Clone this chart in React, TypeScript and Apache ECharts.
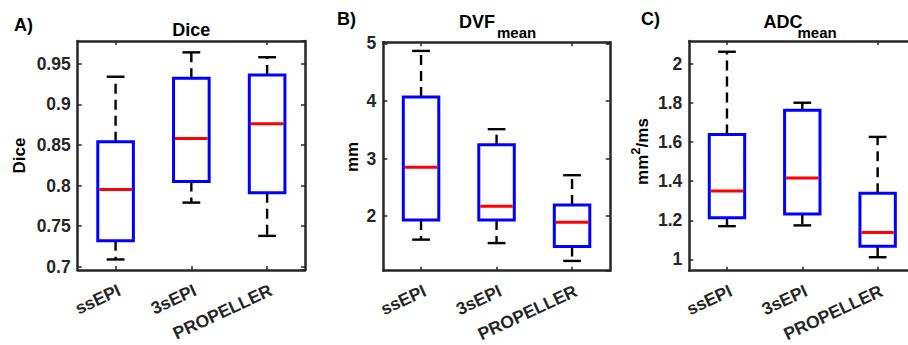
import React, { useEffect, useRef } from "react";
import * as echarts from "echarts";

const categories = ["ssEPI", "3sEPI", "PROPELLER"];

// Dice
const diceLower = [0.709, 0.779, 0.738];
const diceQ1 = [0.732, 0.805, 0.791];
const diceMedian = [0.795, 0.858, 0.876];
const diceQ3 = [0.854, 0.932, 0.936];
const diceUpper = [0.934, 0.964, 0.958];
const diceRange = [0.696, 0.978];

// DVF mean (mm)
const dvfLower = [1.59, 1.53, 1.22];
const dvfQ1 = [1.93, 1.93, 1.47];
const dvfMedian = [2.85, 2.17, 1.89];
const dvfQ3 = [4.07, 3.24, 2.19];
const dvfUpper = [4.87, 3.51, 2.71];
const dvfRange = [1.05, 5.02];

// ADC mean (mm^2/ms)
const adcLower = [1.17, 1.174, 1.011];
const adcQ1 = [1.213, 1.232, 1.067];
const adcMedian = [1.35, 1.417, 1.137];
const adcQ3 = [1.639, 1.764, 1.338];
const adcUpper = [2.063, 1.802, 1.627];
const adcRange = [0.942, 2.118];

const FONT = "'Liberation Sans', Arial, Helvetica, sans-serif";
const AXIS_COLOR = "#262626";

function buildData(lo: number[], q1: number[], med: number[], q3: number[], hi: number[]) {
  return categories.map((_, i) => [i, lo[i], q1[i], med[i], q3[i], hi[i]]);
}

const grids = [
  { left: 77.7, top: 41, width: 227.3, height: 229 },
  { left: 383.3, top: 42.3, width: 226.5, height: 228.4 },
  { left: 689.3, top: 41, width: 226, height: 229.7 },
];

const ranges = [diceRange, dvfRange, adcRange];
const datasets = [
  buildData(diceLower, diceQ1, diceMedian, diceQ3, diceUpper),
  buildData(dvfLower, dvfQ1, dvfMedian, dvfQ3, dvfUpper),
  buildData(adcLower, adcQ1, adcMedian, adcQ3, adcUpper),
];

const renderBox = (params: any, api: any) => {
  const x = api.value(0);
  const pLo = api.coord([x, api.value(1)]);
  const pQ1 = api.coord([x, api.value(2)]);
  const pMed = api.coord([x, api.value(3)]);
  const pQ3 = api.coord([x, api.value(4)]);
  const pHi = api.coord([x, api.value(5)]);
  const band = api.size([1, 0])[0];
  const bw = band * 0.47;
  const cw = bw / 2;
  const cx = pMed[0];
  const whisker = { stroke: "#000", lineWidth: 2.4, lineDash: [10, 6] };
  const cap = { stroke: "#000", lineWidth: 2.4 };
  return {
    type: "group",
    children: [
      { type: "line", shape: { x1: cx, y1: pQ3[1], x2: cx, y2: pHi[1] }, style: whisker },
      { type: "line", shape: { x1: cx, y1: pQ1[1], x2: cx, y2: pLo[1] }, style: whisker },
      { type: "line", shape: { x1: cx - cw / 2, y1: pHi[1], x2: cx + cw / 2, y2: pHi[1] }, style: cap },
      { type: "line", shape: { x1: cx - cw / 2, y1: pLo[1], x2: cx + cw / 2, y2: pLo[1] }, style: cap },
      {
        type: "rect",
        shape: { x: cx - bw / 2, y: pQ3[1], width: bw, height: pQ1[1] - pQ3[1] },
        style: { fill: "none", stroke: "#0000ff", lineWidth: 3 },
      },
      {
        type: "line",
        shape: { x1: cx - bw / 2 + 1.5, y1: pMed[1], x2: cx + bw / 2 - 1.5, y2: pMed[1] },
        style: { stroke: "#ff0000", lineWidth: 3 },
      },
    ],
  };
};

export default function App() {
  const ref = useRef<HTMLDivElement>(null);

  useEffect(() => {
    if (!ref.current) return;
    const chart = echarts.init(ref.current, undefined, { renderer: "svg" });

    const xAxes: any[] = [];
    const yAxes: any[] = [];
    const series: any[] = [];
    const axisLine = { show: true, lineStyle: { color: AXIS_COLOR, width: 2.5 } };
    const tick = { show: true, inside: true, length: 4, lineStyle: { color: AXIS_COLOR, width: 1.5 } };

    grids.forEach((g, i) => {
      xAxes.push({
        type: "category",
        gridIndex: i,
        data: categories,
        position: "bottom",
        axisLine,
        axisTick: { ...tick, alignWithLabel: true },
        axisLabel: {
          rotate: 25,
          align: "right",
          verticalAlign: "top",
          margin: 11,
          color: AXIS_COLOR,
          fontFamily: FONT,
          fontWeight: "bold",
          fontSize: 17.5,
          interval: 0,
        },
        splitLine: { show: false },
      });
      xAxes.push({
        type: "category",
        gridIndex: i,
        data: categories,
        position: "top",
        axisLine,
        axisTick: { ...tick, alignWithLabel: true },
        axisLabel: { show: false },
        splitLine: { show: false },
      });
      yAxes.push({
        type: "value",
        gridIndex: i,
        position: "left",
        min: ranges[i][0],
        max: ranges[i][1],
        splitNumber: 5,
        axisLine,
        axisTick: tick,
        axisLabel: {
          showMinLabel: false,
          showMaxLabel: false,
          margin: 7,
          color: AXIS_COLOR,
          fontFamily: FONT,
          fontWeight: "bold",
          fontSize: 17.5,
        },
        splitLine: { show: false },
      });
      yAxes.push({
        type: "value",
        gridIndex: i,
        position: "right",
        min: ranges[i][0],
        max: ranges[i][1],
        splitNumber: 5,
        axisLine,
        axisTick: tick,
        axisLabel: { show: false },
        splitLine: { show: false },
      });
      series.push({
        type: "custom",
        xAxisIndex: i * 2,
        yAxisIndex: i * 2,
        data: datasets[i],
        encode: { x: 0, y: [1, 2, 3, 4, 5] },
        renderItem: renderBox,
        silent: true,
      });
    });

    const txt = (text: string, x: number, y: number, size: number, align = "left", extra: any = {}) => ({
      type: "text",
      x,
      y,
      ...extra,
      style: {
        text,
        fontFamily: FONT,
        fontWeight: "bold",
        fontSize: size,
        fill: "#000",
        align,
        verticalAlign: "middle",
        ...(extra.style || {}),
      },
    });

    const graphic: any[] = [
      // Panel letters
      txt("A)", 14, 25, 18),
      txt("B)", 337, 18.5, 18),
      txt("C)", 641, 18.5, 18),
      // Titles
      txt("Dice", 191.3, 29.5, 18, "center"),
      txt("DVF", 459, 22.4, 18),
      txt("mean", 497, 32.8, 15),
      txt("ADC", 763.5, 22.4, 18),
      txt("mean", 797.5, 32.8, 15),
      // Y-axis names
      { ...txt("Dice", 19, 155.5, 17, "center"), rotation: Math.PI / 2 },
      { ...txt("mm", 352, 157, 17, "center"), rotation: Math.PI / 2 },
      {
        type: "text",
        x: 640,
        y: 151.5,
        rotation: Math.PI / 2,
        style: {
          text: "{a|mm}{s|2}{a|/ms}",
          align: "center",
          verticalAlign: "middle",
          fill: "#000",
          rich: {
            a: { fontFamily: FONT, fontWeight: "bold", fontSize: 17, fill: "#000", verticalAlign: "bottom", padding: [5, 0, 0, 0] },
            s: { fontFamily: FONT, fontWeight: "bold", fontSize: 13, fill: "#000", verticalAlign: "top" },
          },
        },
      },
    ];

    chart.setOption({
      animation: false,
      backgroundColor: "#fff",
      grid: grids.map((g) => ({ ...g, containLabel: false, outerBoundsMode: "none", show: false })),
      xAxis: xAxes,
      yAxis: yAxes,
      series,
      graphic,
    });

    return () => chart.dispose();
  }, []);

  return (
    <div
      ref={ref}
      style={{ position: "absolute", left: 0, top: 0, width: 908, height: 345, background: "#fff" }}
    />
  );
}
